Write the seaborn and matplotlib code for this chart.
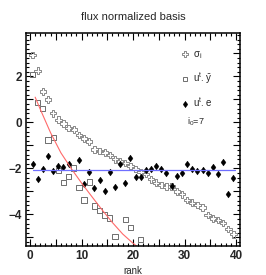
import numpy as np
import pandas as pd
import seaborn as sns
import matplotlib.pyplot as plt
from matplotlib.lines import Line2D
from matplotlib.ticker import MultipleLocator, FuncFormatter

sns.set_style("ticks")
plt.rcParams['font.family'] = ['Liberation Sans', 'DejaVu Sans']
plt.rcParams['mathtext.fontset'] = 'custom'
plt.rcParams['mathtext.rm'] = 'Liberation Sans'
plt.rcParams['mathtext.it'] = 'Liberation Sans'

nan = np.nan

# rank positions (bin centres)
rank = np.arange(40) + 0.5

sigma = [2.93, 2.25, 1.34, 1.0, 0.40, 0.12, -0.04, -0.23, -0.3, -0.54,
         -0.69, -0.82, -1.17, -1.23, -1.31, -1.41, -1.6, -1.7, -1.77, -1.89,
         -2.03, -2.15, -2.25, -2.47, -2.62, -2.72, -2.79, -2.79, -3.0, -3.12,
         -3.37, -3.49, -3.59, -3.7, -4.02, -4.17, -4.24, -4.38, -4.64, -4.86]

uty = [2.1, 0.88, 0.6, -0.76, -0.65, -2.08, -2.61, -2.36, -1.98, -2.84,
       -3.37, -2.59, -3.63, -3.83, -4.02, -4.15, -4.95, nan, -4.22, -4.57,
       nan, -5.08] + [nan] * 18

ute = [-1.82, -2.47, -2.03, -1.46, -2.1, -1.89, -1.92, -1.8, nan, -1.63,
       -2.66, -2.14, -2.87, -2.48, -2.97, -2.14, -2.82, -1.8, -2.61, -1.53,
       -2.36, -2.38, -2.08, -2.04, -1.9, -2.02, -2.19, -2.76, -2.32, -2.21,
       -1.8, -2.02, -2.1, -2.07, -2.21, -1.92, -2.24, -1.7, -3.12, -2.42]

# fit curve
fit_x = [1.0, 2.0, 4.0, 6.0, 8.0, 10.0, 12.0, 14.0, 16.0, 18.0, 20.0, 20.7]
fit_y = [1.1, 0.57, -0.45, -1.32, -2.0, -2.63, -3.22, -3.8, -4.35, -4.85, -5.25, -5.37]

# mean level
mean_x = [0.6, 39.8]
mean_y = [-2.05, -2.05]

df = pd.DataFrame({"rank": rank, "sigma": sigma, "uty": uty, "ute": ute})

fig = plt.figure(figsize=(2.66, 2.75), dpi=100)
ax = fig.add_axes([26 / 266, 29 / 275, 213.5 / 266, 213 / 275])

# ROOT-like marker shapes
a = 0.36
cross = [(-a, 1), (a, 1), (a, a), (1, a), (1, -a), (a, -a), (a, -1), (-a, -1),
         (-a, -a), (-1, -a), (-1, a), (-a, a), (-a, 1)]
diamond = [(0, 1), (0.72, 0), (0, -1), (-0.72, 0), (0, 1)]

gray = "#8a8a8a"
sns.scatterplot(data=df, x="rank", y="sigma", marker=cross, s=22,
                facecolor="none", edgecolor=gray, linewidth=0.7, ax=ax)
sns.scatterplot(data=df, x="rank", y="uty", marker="s", s=14,
                facecolor="none", edgecolor="#6e6e6e", linewidth=0.7, ax=ax)
sns.lineplot(x=fit_x, y=fit_y, color="#ff6a6a", linewidth=0.8, ax=ax)
sns.lineplot(x=mean_x, y=mean_y, color="#6f6fff", linewidth=0.9, ax=ax)
sns.scatterplot(data=df, x="rank", y="ute", marker=diamond, s=24,
                color="black", edgecolor="black", linewidth=0.3, ax=ax)

ax.set_xlim(-0.78, 40.68)
ax.set_ylim(-5.37, 3.89)

ax.xaxis.set_major_locator(MultipleLocator(5))
ax.xaxis.set_minor_locator(MultipleLocator(1))
ax.yaxis.set_major_locator(MultipleLocator(1))
ax.yaxis.set_minor_locator(MultipleLocator(0.2))
ax.xaxis.set_major_formatter(FuncFormatter(lambda v, p: f"{int(round(v))}" if round(v) % 10 == 0 else ""))
ax.yaxis.set_major_formatter(FuncFormatter(lambda v, p: (f"{int(round(v))}".replace("-", "\u2212")) if round(v) % 2 == 0 else ""))
ax.tick_params(which="both", direction="in", top=True, right=True, width=0.8, color="black")
ax.tick_params(which="major", length=5, labelsize=8.5, pad=3)
ax.tick_params(which="minor", length=2.5)
for lab in ax.get_xticklabels() + ax.get_yticklabels():
    lab.set_fontweight("bold")
for sp in ax.spines.values():
    sp.set_linewidth(1.1)
    sp.set_color("black")

ax.set_xlabel("rank", fontsize=7, labelpad=3)
ax.set_ylabel("")
fig.suptitle("flux normalized basis", fontsize=8, y=0.955, x=0.5)

handles = [
    Line2D([], [], marker=cross, linestyle="none", markerfacecolor="none",
           markeredgecolor=gray, markersize=4.2, markeredgewidth=0.7),
    Line2D([], [], marker="s", linestyle="none", markerfacecolor="none",
           markeredgecolor="#6e6e6e", markersize=3.4, markeredgewidth=0.7),
    Line2D([], [], marker=diamond, linestyle="none", markerfacecolor="black",
           markeredgecolor="black", markersize=4.6, markeredgewidth=0.3),
]
labels = [r"$\sigma_{\mathrm{i}}$", r"$\mathrm{u}^{\mathrm{t}}.\bar{\mathrm{y}}$",
          r"$\mathrm{u}^{\mathrm{t}}.\mathrm{e}$"]
ax.legend(handles, labels, loc="upper left", bbox_to_anchor=(0.705, 0.945),
          frameon=False, fontsize=7, handlelength=0.8, handletextpad=0.4,
          labelspacing=0.95, borderpad=0)
ax.text(0.755, 0.582, r"$\mathrm{i}_{0}$=7", transform=ax.transAxes,
        fontsize=6.5, va="center", ha="left")

fig.savefig("out.png", dpi=100)
